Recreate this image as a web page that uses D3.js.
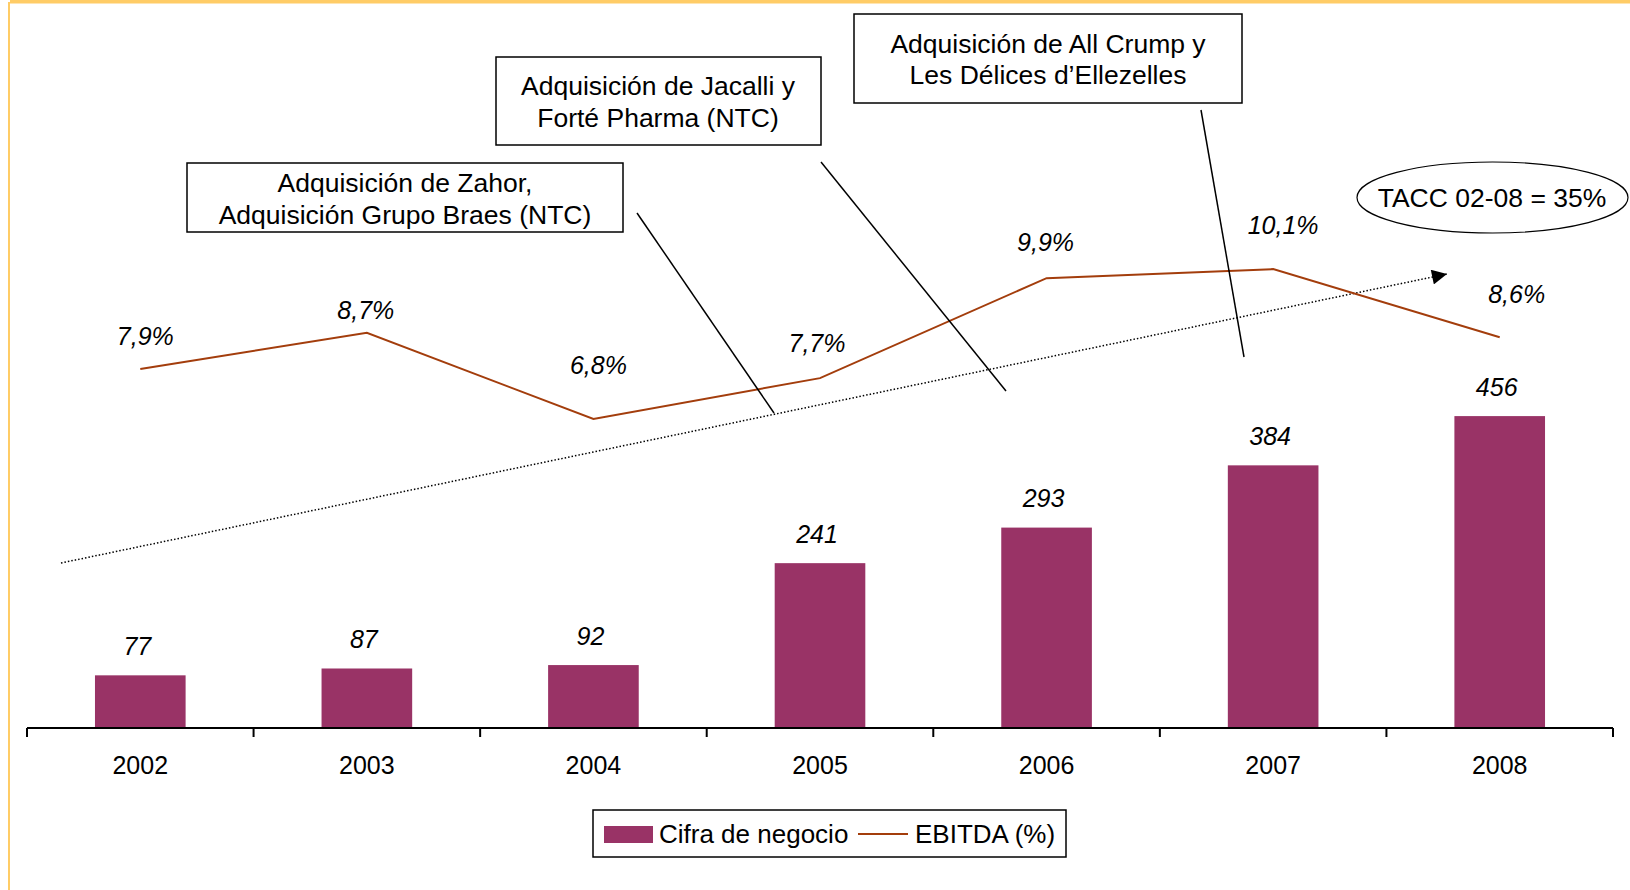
<!DOCTYPE html>
<html>
<head>
<meta charset="utf-8">
<script src="https://cdn.jsdelivr.net/npm/d3@7"></script>
<style>
  body { margin: 0; background: #fff; }
  text { font-family: "Liberation Sans", Arial, sans-serif; fill: #000; }
</style>
</head>
<body>
<svg id="chart" width="1630" height="890"></svg>
<script>
var years = ["2002", "2003", "2004", "2005", "2006", "2007", "2008"];
var cifraNegocio = [77, 87, 92, 241, 293, 384, 456];
var ebitdaPct = [7.9, 8.7, 6.8, 7.7, 9.9, 10.1, 8.6];
var ebitdaLabels = ["7,9%", "8,7%", "6,8%", "7,7%", "9,9%", "10,1%", "8,6%"];
var seriesNames = ["Cifra de negocio", "EBITDA (%)"];
var tacc = "TACC 02-08 = 35%";
var notes = [
  ["Adquisición de Zahor,", "Adquisición Grupo Braes (NTC)"],
  ["Adquisición de Jacalli y", "Forté Pharma (NTC)"],
  ["Adquisición de All Crump y", "Les Délices d’Ellezelles"]
];

// hand placed label nudges (like the original manual labels)
var lineLabelNudge = [[5, -33], [-1, -22], [5, -54], [-3, -35], [-1, -36], [10, -44], [17, -43]];

var barColor = "#993366", lineColor = "#A33D0C", frameColor = "#FFCC66";

var svg = d3.select("#chart"),
    axisY = 728;

// frame
svg.append("rect").attr("x", 10).attr("y", 0).attr("width", 1620).attr("height", 3.5).attr("fill", frameColor);
svg.append("rect").attr("x", 8).attr("y", 2).attr("width", 2).attr("height", 888).attr("fill", frameColor);

var x = d3.scaleBand()
    .domain(years)
    .range([27, 1613])
    .paddingInner(0.6)
    .paddingOuter(0.3);

var y = d3.scaleLinear().domain([0, 500]).range([axisY, axisY - 342]);
var y2 = d3.scaleLinear().domain([0, 16]).range([axisY, axisY - 727]);

function cx(d) { return x(d) + x.bandwidth() / 2; }

// bars
svg.selectAll(".bar")
  .data(years)
  .enter().append("rect")
    .attr("class", "bar")
    .attr("x", function(d) { return x(d); })
    .attr("width", x.bandwidth())
    .attr("y", function(d, i) { return y(cifraNegocio[i]); })
    .attr("height", function(d, i) { return axisY - y(cifraNegocio[i]); })
    .attr("fill", barColor);

svg.selectAll(".bar-label")
  .data(years)
  .enter().append("text")
    .attr("class", "bar-label")
    .attr("x", function(d) { return cx(d) - 3; })
    .attr("y", function(d, i) { return y(cifraNegocio[i]) - 29; })
    .attr("dy", "0.35em")
    .attr("text-anchor", "middle")
    .attr("font-size", "25px")
    .attr("font-style", "italic")
    .text(function(d, i) { return cifraNegocio[i]; });

// axis
svg.append("line")
    .attr("x1", 27).attr("x2", 1613)
    .attr("y1", axisY).attr("y2", axisY)
    .attr("stroke", "#000").attr("stroke-width", 2);

svg.selectAll(".tick-mark")
  .data(d3.range(years.length + 1))
  .enter().append("line")
    .attr("class", "tick-mark")
    .attr("x1", function(i) { return 27 + i * x.step(); })
    .attr("x2", function(i) { return 27 + i * x.step(); })
    .attr("y1", axisY).attr("y2", axisY + 9)
    .attr("stroke", "#000").attr("stroke-width", 2);

svg.selectAll(".year")
  .data(years)
  .enter().append("text")
    .attr("class", "year")
    .attr("x", function(d) { return cx(d); })
    .attr("y", 765)
    .attr("dy", "0.35em")
    .attr("text-anchor", "middle")
    .attr("font-size", "25px")
    .text(function(d) { return d; });

// trend arrow
svg.append("defs").append("marker")
    .attr("id", "arrow")
    .attr("viewBox", "0 0 10 10")
    .attr("refX", 10).attr("refY", 5)
    .attr("markerUnits", "userSpaceOnUse")
    .attr("markerWidth", 17).attr("markerHeight", 15)
    .attr("orient", "auto")
  .append("path")
    .attr("d", "M0,0 L10,5 L0,10 Z")
    .attr("fill", "#000");

svg.append("line")
    .attr("x1", 61).attr("y1", 563)
    .attr("x2", 1447).attr("y2", 274)
    .attr("stroke", "#000")
    .attr("stroke-width", 1.5)
    .attr("stroke-dasharray", "1.5,2")
    .attr("marker-end", "url(#arrow)");

// ebitda line
var line = d3.line()
    .x(function(d, i) { return cx(years[i]); })
    .y(function(d) { return y2(d); });

svg.append("path")
    .datum(ebitdaPct)
    .attr("d", line)
    .attr("fill", "none")
    .attr("stroke", lineColor)
    .attr("stroke-width", 2);

svg.selectAll(".line-label")
  .data(ebitdaPct)
  .enter().append("text")
    .attr("class", "line-label")
    .attr("x", function(d, i) { return cx(years[i]) + lineLabelNudge[i][0]; })
    .attr("y", function(d, i) { return y2(d) + lineLabelNudge[i][1]; })
    .attr("dy", "0.35em")
    .attr("text-anchor", "middle")
    .attr("font-size", "25px")
    .attr("font-style", "italic")
    .text(function(d, i) { return ebitdaLabels[i]; });

// annotation boxes + connectors
var boxes = [
  { x: 187, y: 163, w: 436, h: 69, cx: 405, ly: [183, 215], from: [637, 213], to: [774, 413] },
  { x: 496, y: 57, w: 325, h: 88, cx: 658, ly: [86, 117.5], from: [821, 162], to: [1006, 391] },
  { x: 854, y: 14, w: 388, h: 89, cx: 1048, ly: [43.7, 75], from: [1201, 110], to: [1244, 357] }
];

var note = svg.selectAll(".note")
  .data(boxes)
  .enter().append("g")
    .attr("class", "note");

note.append("line")
    .attr("x1", function(d) { return d.from[0]; })
    .attr("y1", function(d) { return d.from[1]; })
    .attr("x2", function(d) { return d.to[0]; })
    .attr("y2", function(d) { return d.to[1]; })
    .attr("stroke", "#000").attr("stroke-width", 1.5);

note.append("rect")
    .attr("x", function(d) { return d.x; })
    .attr("y", function(d) { return d.y; })
    .attr("width", function(d) { return d.w; })
    .attr("height", function(d) { return d.h; })
    .attr("fill", "#fff")
    .attr("stroke", "#000").attr("stroke-width", 1.5);

note.each(function(d, i) {
  d3.select(this).selectAll("text")
    .data(notes[i])
    .enter().append("text")
      .attr("x", d.cx)
      .attr("y", function(t, j) { return d.ly[j]; })
      .attr("dy", "0.35em")
      .attr("text-anchor", "middle")
      .attr("font-size", "26.5px")
      .text(function(t) { return t; });
});

// TACC ellipse
svg.append("ellipse")
    .attr("cx", 1492.5).attr("cy", 197.5)
    .attr("rx", 135.5).attr("ry", 35.5)
    .attr("fill", "none")
    .attr("stroke", "#000").attr("stroke-width", 1.2);

svg.append("text")
    .attr("x", 1492).attr("y", 198)
    .attr("dy", "0.35em")
    .attr("text-anchor", "middle")
    .attr("font-size", "26.5px")
    .text(tacc);

// legend
var legend = svg.append("g");
legend.append("rect")
    .attr("x", 593).attr("y", 810).attr("width", 473).attr("height", 47)
    .attr("fill", "#fff").attr("stroke", "#000").attr("stroke-width", 1.5);
legend.append("rect")
    .attr("x", 604).attr("y", 826).attr("width", 49).attr("height", 17)
    .attr("fill", barColor);
legend.append("text")
    .attr("x", 659).attr("y", 834).attr("dy", "0.35em")
    .attr("font-size", "26px")
    .text(seriesNames[0]);
legend.append("line")
    .attr("x1", 858).attr("x2", 908).attr("y1", 834).attr("y2", 834)
    .attr("stroke", lineColor).attr("stroke-width", 2);
legend.append("text")
    .attr("x", 915).attr("y", 834).attr("dy", "0.35em")
    .attr("font-size", "26px")
    .text(seriesNames[1]);
</script>
</body>
</html>
